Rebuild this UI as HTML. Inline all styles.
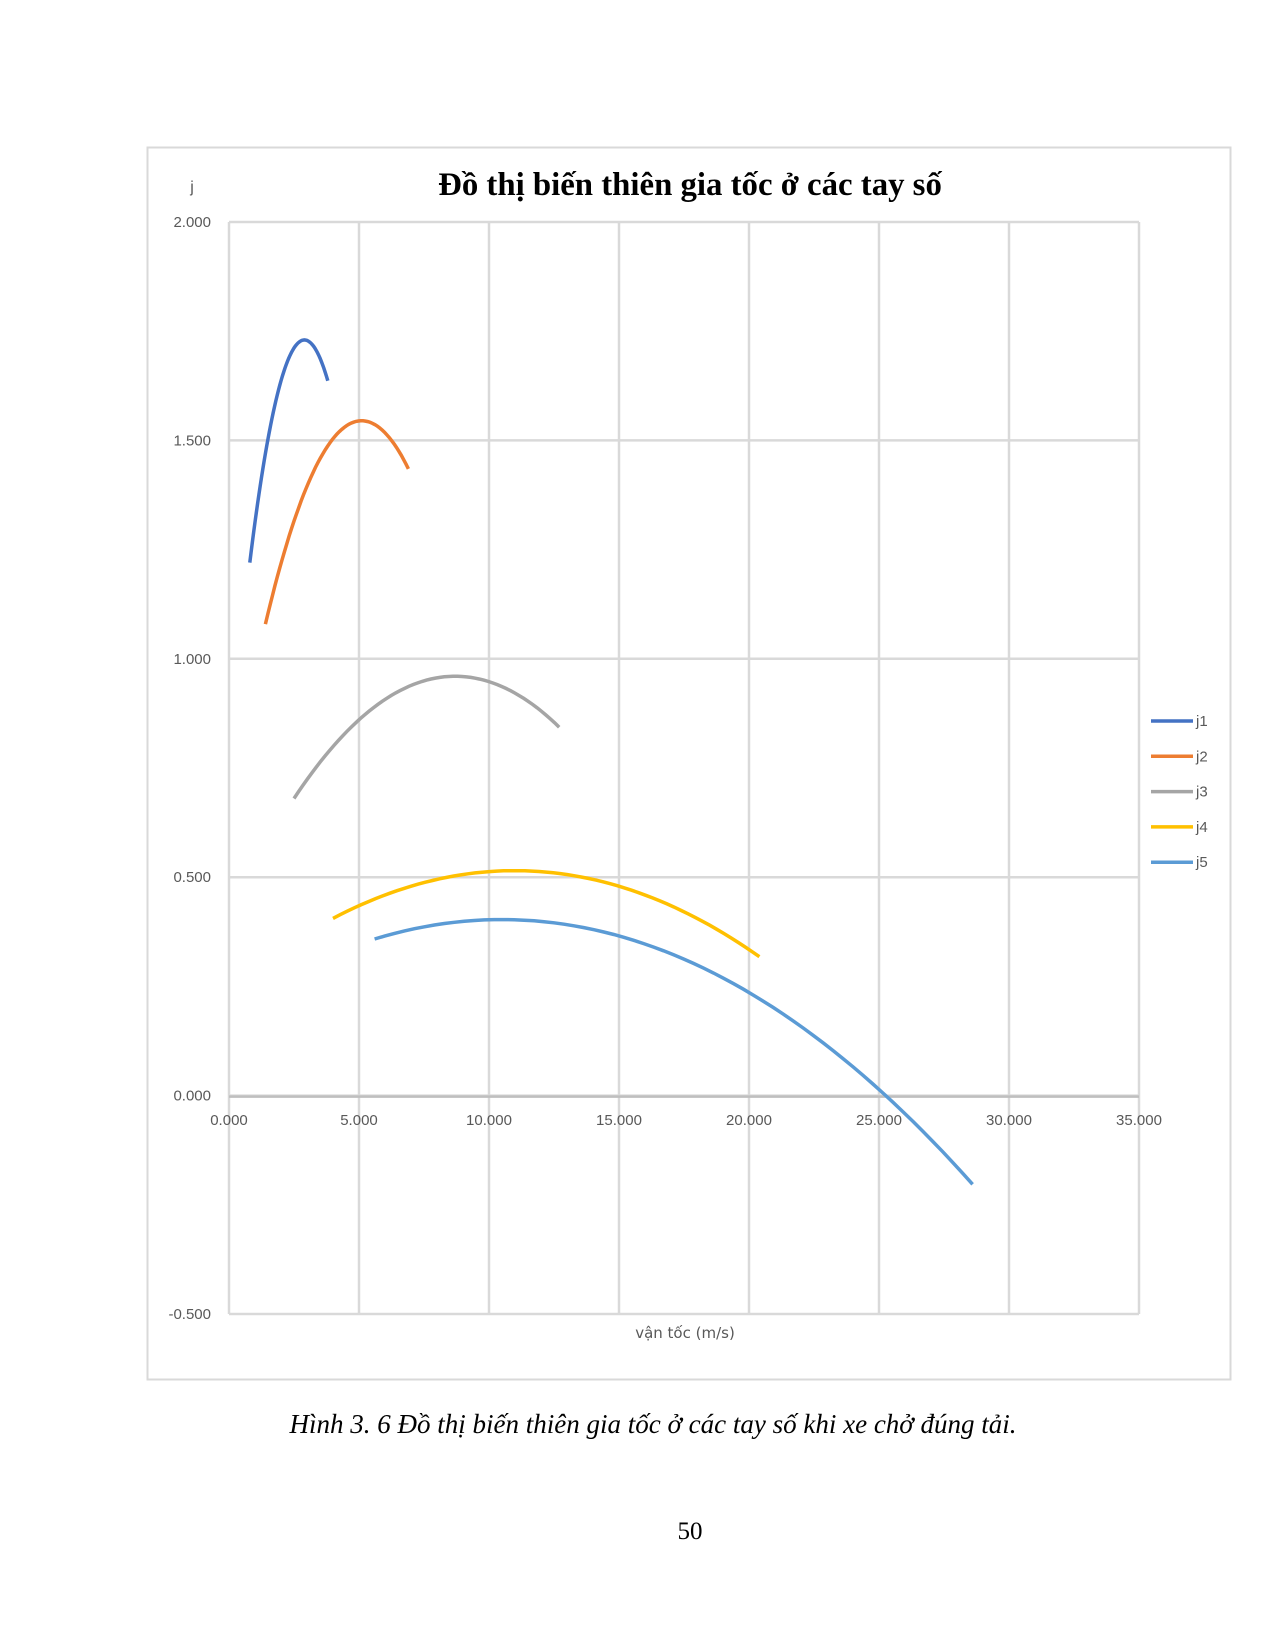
<!DOCTYPE html>
<html><head><meta charset="utf-8"><style>
html,body{margin:0;padding:0;background:#fff;}
body{width:1275px;height:1650px;position:relative;overflow:hidden;}
svg{position:absolute;left:0;top:0;}
</style></head><body>
<svg id="s" width="1275" height="1650" xmlns="http://www.w3.org/2000/svg">
<rect x="147.5" y="147.5" width="1083" height="1232" fill="#fff" stroke="#d9d9d9" stroke-width="2"/>
<g id="grid" stroke="#d9d9d9" stroke-width="2.5"></g>
<line x1="229" y1="1096.6" x2="1139" y2="1096.6" stroke="#bfbfbf" stroke-width="2.5"/>
<g id="lbl" font-family="Liberation Sans, DejaVu Sans, sans-serif" font-size="15" fill="#595959"></g>
<g id="curves" fill="none" stroke-width="3.5" stroke-linecap="butt"></g>
<text x="690" y="195" text-anchor="middle" font-family="Liberation Serif, serif" font-weight="bold" font-size="32.8">Đồ thị biến thiên gia tốc ở các tay số</text>
<text x="192" y="192" text-anchor="middle" font-family="Liberation Sans, sans-serif" font-size="16" fill="#595959">j</text>
<text x="685" y="1338" text-anchor="middle" font-family="DejaVu Sans, Liberation Sans, sans-serif" font-size="15" fill="#595959">vận tốc (m/s)</text>
<g id="leg" font-family="Liberation Sans, sans-serif" font-size="15" fill="#595959"></g>
<text x="653" y="1433" text-anchor="middle" font-family="Liberation Serif, serif" font-style="italic" font-size="27">Hình 3. 6 Đồ thị biến thiên gia tốc ở các tay số khi xe chở đúng tải.</text>
<text x="690" y="1539" text-anchor="middle" font-family="Liberation Serif, serif" font-size="25">50</text>
</svg>
<script>
var NS="http://www.w3.org/2000/svg";
function X(v){return 229+v*26;}
function Y(j){return 222+(2-j)*436.8;}
function el(p,t,a,txt){var e=document.createElementNS(NS,t);for(var k in a)e.setAttribute(k,a[k]);if(txt)e.textContent=txt;document.getElementById(p).appendChild(e);}
for(var i=0;i<=7;i++){el('grid','line',{x1:X(i*5),y1:222,x2:X(i*5),y2:1314});}
for(var i=0;i<=5;i++){var j=2-i*0.5;el('grid','line',{x1:229,y1:Y(j),x2:1139,y2:Y(j)});
 el('lbl','text',{x:211,y:Y(j)+5,'text-anchor':'end'},j.toFixed(3));}
for(var i=0;i<=7;i++){el('lbl','text',{x:X(i*5),y:1125,'text-anchor':'middle'},(i*5).toFixed(3));}
var S=[["#4472c4",1.73,0.1156,2.9,0.8,3.8],["#ed7d31",1.545,0.034,5.1,1.4,6.9],["#a5a5a5",0.96,0.00728,8.7,2.5,12.7],["#ffc000",0.515,0.00223,11.0,4.0,20.4],["#5b9bd5",0.403,0.00185,10.5,5.6,28.6]];
S.forEach(function(s,k){var d="";for(var n=0;n<=60;n++){var v=s[4]+(s[5]-s[4])*n/60;var j=s[1]-s[2]*(v-s[3])*(v-s[3]);d+=(n?"L":"M")+X(v).toFixed(1)+" "+Y(j).toFixed(1);}
 el('curves','path',{d:d,stroke:s[0]});
 var ly=721+k*35.3;el('leg','line',{x1:1151,y1:ly,x2:1193,y2:ly,stroke:s[0],'stroke-width':3.5});
 el('leg','text',{x:1196,y:ly+5},"j"+(k+1));});
</script>
</body></html>
